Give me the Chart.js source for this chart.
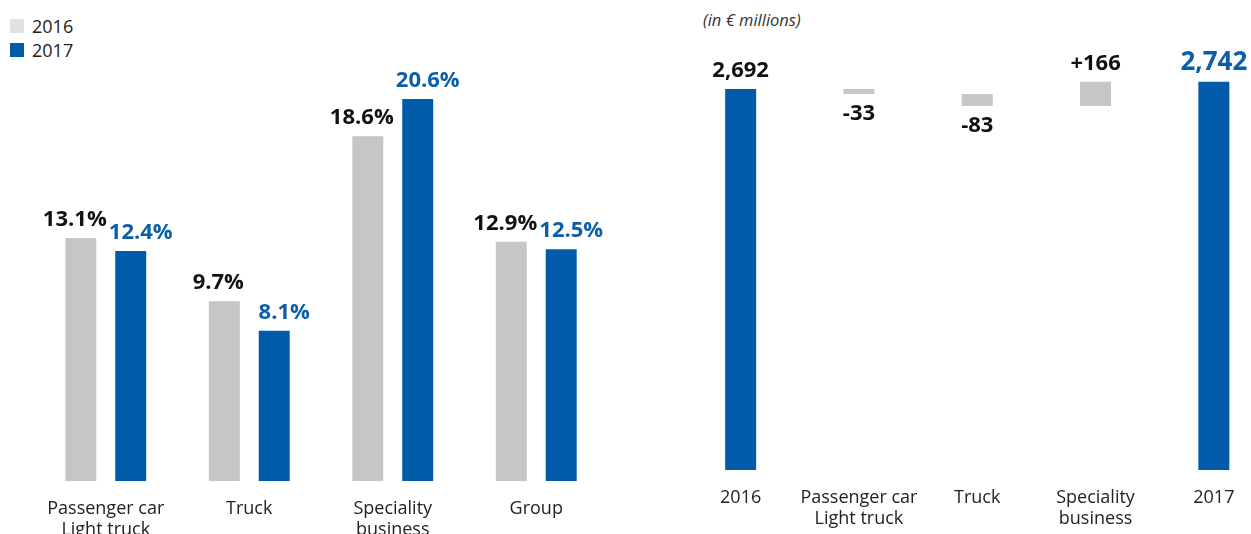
<!DOCTYPE html>
<html>
<head>
<meta charset="utf-8">
<title>EBIT margin and sales bridge</title>
<script src="https://cdn.jsdelivr.net/npm/chart.js@4.4.0/dist/chart.umd.min.js"></script>
<style>
  html, body { margin: 0; padding: 0; background: #fff; overflow: hidden; width: 1251px; height: 534px; }
  body { position: relative; font-family: "Open Sans", sans-serif; color: #222; }
  .legend { position: absolute; left: 10px; top: 14px; font-size: 18px; }
  .legend .item { display: flex; align-items: center; height: 24px; }
  .legend .swatch { width: 14px; height: 14px; margin-right: 8px; }
  .unit { position: absolute; left: 703px; top: 8px; font-size: 16.5px; font-style: italic; color: #333; }
  #marginChart { position: absolute; left: 0; top: 0; }
  #bridgeChart { position: absolute; left: 680px; top: 0; }
</style>
</head>
<body>

<div class="legend">
  <div class="item"><span class="swatch" style="background:#e1e1e1"></span>2016</div>
  <div class="item"><span class="swatch" style="background:#005ca9"></span>2017</div>
</div>
<div class="unit">(in € millions)</div>

<canvas id="marginChart" width="640" height="534"></canvas>
<canvas id="bridgeChart" width="594" height="534"></canvas>

<script>
/* ---------- data ---------- */
const marginCategories = [["Passenger car", "Light truck"], "Truck", ["Speciality", "business"], "Group"];
const margin2016 = [13.1, 9.7, 18.6, 12.9];
const margin2017 = [12.4, 8.1, 20.6, 12.5];

const bridgeCategories = ["2016", ["Passenger car", "Light truck"], "Truck", ["Speciality", "business"], "2017"];
const bridgeValues = [2692, -33, -83, 166, 2742];
const bridgeKinds = ["total", "delta", "delta", "delta", "total"];

/* ---------- styles ---------- */
const GREY = "#c6c6c6";
const BLUE = "#005ca9";
const BLUE_TEXT = "#0b5fa8";
const INK = "#111";
const FONT = "'Open Sans', sans-serif";

const tickStyle = {
  color: "#222",
  font: { family: FONT, size: 18, lineHeight: 1.15 },
  padding: 18,
  autoSkip: false,
  maxRotation: 0
};

// draws the value text next to every bar
function barLabels(getLabel) {
  return {
    id: "barLabels",
    afterDatasetsDraw(chart) {
      const ctx = chart.ctx;
      ctx.save();
      ctx.textAlign = "center";
      chart.data.datasets.forEach((ds, di) => {
        chart.getDatasetMeta(di).data.forEach((bar, i) => {
          const lbl = getLabel(di, i);
          const top = Math.min(bar.y, bar.base);
          const bottom = Math.max(bar.y, bar.base);
          ctx.font = "bold " + lbl.size + "px " + FONT;
          ctx.fillStyle = lbl.color;
          if (lbl.below) {
            ctx.textBaseline = "top";
            ctx.fillText(lbl.text, bar.x + (lbl.dx || 0), bottom + 9);
          } else {
            ctx.textBaseline = "alphabetic";
            ctx.fillText(lbl.text, bar.x + (lbl.dx || 0), top - 12);
          }
        });
      });
      ctx.restore();
    }
  };
}

/* ---------- left: margin by division ---------- */
const marginSeries = [margin2016, margin2017];
const marginColors = [INK, BLUE_TEXT];
const marginShift = [-6, 10];

new Chart(document.getElementById("marginChart"), {
  type: "bar",
  data: {
    labels: marginCategories,
    datasets: [
      { label: "2016", data: margin2016, backgroundColor: GREY },
      { label: "2017", data: margin2017, backgroundColor: BLUE }
    ]
  },
  options: {
    responsive: false,
    animation: false,
    events: [],
    layout: { padding: { left: 34, right: 32, top: 36, bottom: 0 } },
    datasets: { bar: { categoryPercentage: 0.696, barPercentage: 0.62 } },
    plugins: { legend: { display: false }, tooltip: { enabled: false } },
    scales: {
      x: {
        grid: { display: false, drawTicks: false },
        border: { display: false },
        ticks: tickStyle,
        afterFit(scale) { scale.height = 53; }
      },
      y: { display: false, min: 0, max: 24 }
    }
  },
  plugins: [barLabels((di, i) => ({
    text: marginSeries[di][i].toFixed(1) + "%",
    color: marginColors[di],
    size: 22,
    dx: marginShift[di]
  }))]
});

/* ---------- right: sales bridge 2016 -> 2017 ---------- */
const BRIDGE_BASE = 100; // value axis is cut here
let running = 0;
const bridgeRanges = bridgeValues.map((v, i) => {
  if (bridgeKinds[i] === "total") { running = v; return [BRIDGE_BASE, v]; }
  const from = running;
  running += v;
  return [from, running];
});

function bridgeText(i) {
  const v = bridgeValues[i];
  if (bridgeKinds[i] === "total") return v.toLocaleString("en-US");
  return (v > 0 ? "+" : "") + v;
}

new Chart(document.getElementById("bridgeChart"), {
  type: "bar",
  data: {
    labels: bridgeCategories,
    datasets: [{
      data: bridgeRanges,
      backgroundColor: bridgeKinds.map(k => k === "total" ? BLUE : GREY),
      categoryPercentage: 1,
      barPercentage: 0.262
    }]
  },
  options: {
    responsive: false,
    animation: false,
    events: [],
    layout: { padding: { left: 1.5, right: 1, top: 36, bottom: 0 } },
    plugins: { legend: { display: false }, tooltip: { enabled: false } },
    scales: {
      x: {
        grid: { display: false, drawTicks: false },
        border: { display: false },
        ticks: tickStyle,
        afterFit(scale) { scale.height = 64; }
      },
      y: { display: false, min: BRIDGE_BASE, max: 3053 }
    }
  },
  plugins: [barLabels((di, i) => {
    const last = i === bridgeValues.length - 1;
    return {
      text: bridgeText(i),
      color: last ? BLUE_TEXT : INK,
      size: last ? 26 : 22,
      below: bridgeKinds[i] === "delta" && bridgeValues[i] < 0
    };
  })]
});
</script>
</body>
</html>
